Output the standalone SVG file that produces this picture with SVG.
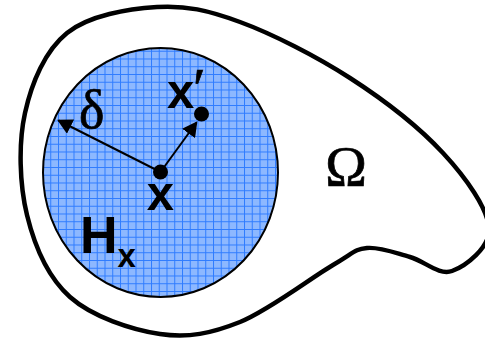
<svg xmlns="http://www.w3.org/2000/svg" width="485" height="338" viewBox="0 0 485 338">
<style>
.sans{font-family:"Liberation Sans",Arial,sans-serif;font-weight:bold;fill:#000}
.serif{font-family:"Liberation Serif","Times New Roman",serif;fill:#000;stroke:#000;stroke-width:0.7}
.conn{stroke:#000;stroke-width:2;fill:none}
</style>
<defs>
<pattern id="grid" patternUnits="userSpaceOnUse" x="104.5" y="105" width="7.75" height="7.75">
<rect width="7.75" height="7.75" fill="#8db8ff"/>
<path d="M0.5 0V7.75M0 0.5H7.75" stroke="#2f7cff" stroke-width="1"/>
</pattern>
<marker id="arr" viewBox="0 0 10 10" refX="9" refY="5" markerWidth="7.5" markerHeight="8" markerUnits="strokeWidth" orient="auto" preserveAspectRatio="none">
<path d="M0 0L10 5L0 10Z" fill="#000"/>
</marker>
</defs>
<g id="omega">
<path d="M157,7 C185.8,5.2 207.8,10.2 240,22 C272.2,33.8 316.2,56.2 350,78 C383.8,99.8 419.8,128 443,153 C466.2,178 487.5,208.3 489,228 C490.5,247.7 465.2,266.2 452,271 C438.8,275.8 424.2,260.8 410,257 C395.8,253.2 379.8,246.7 367,248 C354.2,249.3 354.2,252.7 333,265 C311.8,277.3 268.8,310.5 240,322 C211.2,333.5 188.3,338.2 160,334 C131.7,329.8 92.2,316.8 70,297 C47.8,277.2 34.5,245.7 27,215 C19.5,184.3 18.3,143.3 25,113 C31.7,82.7 45,50.7 67,33 C89,15.3 128.2,8.8 157,7 Z" fill="#fff" stroke="#000" stroke-width="4.5"/>
<text class="serif" x="346" y="186" font-size="56" text-anchor="middle">Ω</text>
</g>
<g id="Hx">
<ellipse cx="160.5" cy="172.5" rx="117.5" ry="124.5" fill="url(#grid)" stroke="#000" stroke-width="2"/>
<text class="sans" x="80" y="253" font-size="52">H<tspan font-size="33" dy="14">x</tspan></text>
</g>
<g id="connectors">
<line class="conn" x1="160.5" y1="172" x2="58.5" y2="120.5" marker-end="url(#arr)"/>
<line class="conn" x1="160.5" y1="172" x2="196.5" y2="122.5" marker-end="url(#arr)"/>
</g>
<g id="x">
<circle cx="160.5" cy="172" r="7.5" fill="#000"/>
<text class="sans" x="160.5" y="210" font-size="49" text-anchor="middle">x</text>
</g>
<g id="xprime">
<circle cx="201.5" cy="114" r="7.5" fill="#000"/>
<text class="sans" x="167" y="108" font-size="49">x</text>
<text class="serif" x="193" y="108" font-size="58" stroke-width="0">′</text>
</g>
<g id="delta">
<text class="serif" x="79" y="128" font-size="54">δ</text>
</g>
</svg>
